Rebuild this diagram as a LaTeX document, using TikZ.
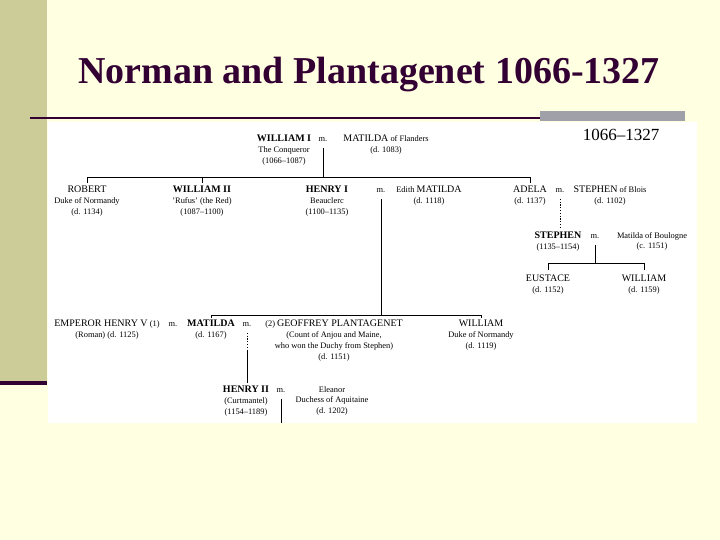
\documentclass[tikz,border=0pt]{standalone}
\usepackage{fontspec}
\setmainfont{Liberation Serif}
\usetikzlibrary{positioning}

\definecolor{slidecream}{RGB}{255,255,225}
\definecolor{stripkhaki}{RGB}{204,204,153}
\definecolor{titleplum}{RGB}{51,0,51}
\definecolor{bargray}{RGB}{160,160,168}
\newcommand\kinname[1]{{\fontsize{10}{10.8}\selectfont #1}}

\begin{document}
\begin{tikzpicture}[x=1pt,y=-1pt,
  person/.style={anchor=north,align=center,inner sep=0pt,font=\fontsize{8.4}{10.8}\selectfont},
  wed/.style={anchor=north,inner sep=0pt,text height=6.4pt,text depth=0pt,font=\fontsize{8.4}{10.8}\selectfont},
  line/.style={line width=0.6pt},
  doubtful/.style={line width=0.6pt,dash pattern=on 1.2pt off 1.6pt}
]
  % slide
  \fill[slidecream] (0,0) rectangle (720,540);
  \useasboundingbox (0,0) rectangle (720,540);
  \fill[stripkhaki] (0,0) rectangle (47,381);
  \fill[titleplum] (0,381) rectangle (47,385);
  \fill[bargray] (540,111) rectangle (685,121);
  \fill[titleplum] (30,117) rectangle (540,119);
  \node[anchor=base,text=titleplum,font=\fontsize{38}{40}\selectfont\bfseries] (title) at (369,84) {Norman and Plantagenet 1066-1327};
  \fill[white] (48,122) rectangle (697,423);
  \node[anchor=base,font=\fontsize{17}{18}\selectfont] (span) at (621,141) {1066--1327};

  % William I and his children
  \node[person] (william1) at (284,135) {\textbf{\kinname{WILLIAM I}}\\The Conqueror\\(1066--1087)};
  \node[wed] (m1) at (323,135) {m.};
  \node[person] (matflanders) at (386,135) {\kinname{MATILDA} of Flanders\\(d. 1083)};
  \coordinate (kids1) at (323,177);

  \node[person] (robert) at (87,186) {\kinname{ROBERT}\\Duke of Normandy\\(d. 1134)};
  \node[person] (william2) at (202,186) {\textbf{\kinname{WILLIAM II}}\\'Rufus' (the Red)\\(1087--1100)};
  \node[person] (henry1) at (327,186) {\textbf{\kinname{HENRY I}}\\Beauclerc\\(1100--1135)};
  \node[wed] (m2) at (381,186) {m.};
  \node[person] (edith) at (429,186) {Edith \kinname{MATILDA}\\(d. 1118)};
  \node[person] (adela) at (530,186) {\kinname{ADELA}\\(d. 1137)};
  \node[wed] (m3) at (560,186) {m.};
  \node[person] (stephenblois) at (610,186) {\kinname{STEPHEN} of Blois\\(d. 1102)};

  % Stephen's line
  \node[person] (stephen) at (558,232) {\textbf{\kinname{STEPHEN}}\\(1135--1154)};
  \node[wed] (m4) at (595,232) {m.};
  \node[person] (matboulogne) at (652,232) {Matilda of Boulogne\\(c. 1151)};
  \coordinate (kids3) at (595,263);
  \node[person] (eustace) at (548,275) {\kinname{EUSTACE}\\(d. 1152)};
  \node[person] (williamb) at (644,275) {\kinname{WILLIAM}\\(d. 1159)};

  % Henry I's children
  \coordinate (kids2) at (381,315);
  \node[person] (henry5) at (107,320) {\kinname{EMPEROR HENRY V} (1)\\(Roman) (d. 1125)};
  \node[wed] (m5) at (173,320) {m.};
  \node[person] (matilda) at (211,320) {\textbf{\kinname{MATILDA}}\\(d. 1167)};
  \node[wed] (m6) at (247,320) {m.};
  \node[person] (geoffrey) at (334,320) {(2) \kinname{GEOFFREY PLANTAGENET}\\(Count of Anjou and Maine,\\who won the Duchy from Stephen)\\(d. 1151)};
  \node[person] (williamd) at (481,320) {\kinname{WILLIAM}\\Duke of Normandy\\(d. 1119)};
  \coordinate (solidfrom) at (247,350);

  \node[person] (henry2) at (246,386) {\textbf{\kinname{HENRY II}}\\(Curtmantel)\\(1154--1189)};
  \node[wed] (m7) at (281,386) {m.};
  \node[person] (eleanor) at (332,386) {Eleanor\\Duchess of Aquitaine\\(d. 1202)};
  \coordinate (heirs) at (281,423);

  % descent lines
  \draw[line,shorten <=6pt] (m1) -- (m1 |- kids1);
  \draw[line] (robert.north |- kids1) -- (adela.north |- kids1);
  \foreach \child in {robert,william2,adela}
    \draw[line,shorten <=3pt] (\child.north) -- (\child.north |- kids1);

  \draw[doubtful,shorten <=6pt,shorten >=3pt] (m3) -- (m3 |- stephen.north);
  \draw[line,shorten <=6pt] (m4) -- (kids3);
  \draw[line] (eustace.north |- kids3) -- (williamb.north |- kids3);
  \foreach \child in {eustace,williamb}
    \draw[line,shorten <=5pt] (\child.north) -- (\child.north |- kids3);

  \draw[line,shorten <=6pt] (m2) -- (kids2);
  \draw[line] (matilda.north |- kids2) -- (williamd.north |- kids2);
  \foreach \child in {matilda,williamd}
    \draw[line,shorten <=2pt] (\child.north) -- (\child.north |- kids2);

  \draw[doubtful,shorten <=6pt] (m6) -- (solidfrom);
  \draw[line,shorten >=3pt] (solidfrom) -- (solidfrom |- henry2.north);
  \draw[line,shorten <=6pt] (m7) -- (heirs);
\end{tikzpicture}
\end{document}
